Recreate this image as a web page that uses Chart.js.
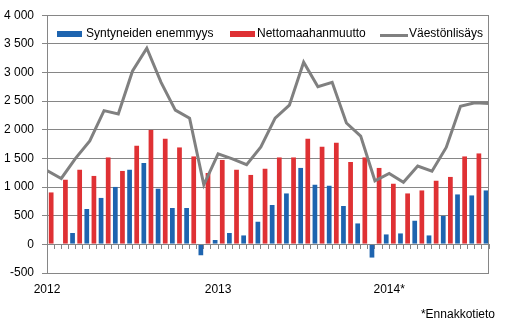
<!DOCTYPE html>
<html>
<head>
<meta charset="utf-8">
<script src="https://cdn.jsdelivr.net/npm/chart.js@4/dist/chart.umd.min.js"></script>
<style>
  body { margin: 0; background: #fff; }
  #wrap { position: relative; width: 516px; height: 326px; font-family: 'Liberation Sans', Arial, sans-serif; font-size: 12px; color: #000; }
  .sw { position: absolute; }
  .lbl { position: absolute; line-height: 14px; white-space: nowrap; }
</style>
</head>
<body>
<div id="wrap">
  <canvas id="chart" width="516" height="326"></canvas>
  <div class="sw" style="left:57px;top:31px;width:25px;height:6px;background:#1e64af"></div>
  <div class="lbl" style="left:86px;top:26px">Syntyneiden enemmyys</div>
  <div class="sw" style="left:230px;top:31px;width:25px;height:6px;background:#df3134"></div>
  <div class="lbl" style="left:257px;top:26px">Nettomaahanmuutto</div>
  <div class="sw" style="left:380px;top:34px;width:28px;height:3px;background:#808080"></div>
  <div class="lbl" style="left:409px;top:26px">Väestönlisäys</div>
  <div class="lbl" style="right:21px;top:307px">*Ennakkotieto</div>
</div>
<script>
// months Jan 2012 .. Jul 2014
const months = ['1/12','2/12','3/12','4/12','5/12','6/12','7/12','8/12','9/12','10/12','11/12','12/12',
  '1/13','2/13','3/13','4/13','5/13','6/13','7/13','8/13','9/13','10/13','11/13','12/13',
  '1/14','2/14','3/14','4/14','5/14','6/14','7/14'];
const yearLabels = ['2012', '2013', '2014*'];
const yearStarts = [0, 12, 24];

const births = [0, 199, 619, 812, 1005, 1306, 1420, 977, 636, 636, -193, 74,
  199, 159, 398, 687, 892, 1335, 1045, 1028, 670, 369, -233, 176,
  193, 415, 159, 500, 875, 858, 943];
const migration = [909, 1130, 1306, 1198, 1522, 1284, 1727, 1999, 1846, 1693, 1539, 1244,
  1477, 1306, 1216, 1323, 1522, 1522, 1846, 1710, 1778, 1437, 1522, 1335,
  1062, 892, 943, 1113, 1181, 1539, 1590];
// growth line sits on month boundaries (32 points)
const growth = [1290, 1150, 1500, 1806, 2334, 2276, 3026, 3424, 2828, 2344, 2203, 1039,
  1578, 1492, 1390, 1700, 2203, 2430, 3179, 2753, 2828, 2118, 1891, 1110,
  1237, 1084, 1368, 1277, 1692, 2412, 2470, 2458];

const GRID = '#868686';
Chart.defaults.font.family = "'Liberation Sans', Arial, sans-serif";
Chart.defaults.font.size = 12;
Chart.defaults.color = '#000';

function fmt(v){ return String(v).replace(/\B(?=(\d{3})+(?!\d))/g, ' '); }

// each bar gets half a month slot; transparent side borders leave the gap
const barStyle = {
  barThickness: 7.13,
  borderColor: 'rgba(0,0,0,0)',
  borderWidth: { left: 1.8, right: 0.6, top: 0, bottom: 0 },
  borderSkipped: false,
  inflateAmount: 0
};

// plot frame (right edge etc.)
const frame = {
  id: 'frame',
  afterDraw(chart){
    const a = chart.chartArea, ctx = chart.ctx;
    ctx.save();
    ctx.strokeStyle = GRID;
    ctx.lineWidth = 1;
    ctx.strokeRect(Math.round(a.left) + 0.5, Math.round(a.top) + 0.5, Math.round(a.right - a.left) - 1, Math.round(a.bottom - a.top));
    ctx.restore();
  }
};

new Chart(document.getElementById('chart'), {
  type: 'bar',
  data: {
    labels: months,
    datasets: [
      { type: 'line', label: 'Väestönlisäys', xAxisID: 'xl', order: 0,
        data: growth.map((v, i) => ({ x: i, y: v })),
        borderColor: '#808080', borderWidth: 3, pointRadius: 0, tension: 0 },
      { label: 'Nettomaahanmuutto', data: migration, backgroundColor: '#df3134', order: 1, ...barStyle },
      { label: 'Syntyneiden enemmyys', data: births, backgroundColor: '#1e64af', order: 2, ...barStyle }
    ]
  },
  options: {
    responsive: false,
    animation: false,
    layout: { padding: { left: 0, right: 27, top: 10, bottom: 28 } },
    plugins: { legend: { display: false }, tooltip: { enabled: false } },
    scales: {
      x: { type: 'category', display: false, offset: true, ticks: { autoSkip: false } },
      xt: {
        type: 'linear', position: { y: 0 }, min: 0, max: 31, offset: false,
        afterBuildTicks: s => { s.ticks = Array.from({ length: 63 }, (_, k) => ({ value: k / 2 })); },
        ticks: { display: false, autoSkip: false },
        grid: { offset: false, drawOnChartArea: false, drawTicks: true, tickLength: 4, color: GRID },
        border: { display: true, color: GRID }
      },
      xl: {
        type: 'linear', position: 'bottom', min: 0, max: 31, offset: false,
        afterBuildTicks: s => { s.ticks = yearStarts.map(v => ({ value: v })); },
        afterFit: s => { s.height = 25; },
        ticks: { autoSkip: false, maxRotation: 0, padding: 9, callback: v => yearLabels[yearStarts.indexOf(v)] },
        grid: { offset: false, display: false, drawTicks: false },
        border: { display: false }
      },
      y: {
        min: -500, max: 4000,
        afterFit: s => { s.width = 47; },
        ticks: { stepSize: 500, padding: 8, callback: v => fmt(v) },
        grid: { color: GRID, tickLength: 5 },
        border: { color: GRID }
      }
    }
  },
  plugins: [frame]
});
</script>
</body>
</html>
